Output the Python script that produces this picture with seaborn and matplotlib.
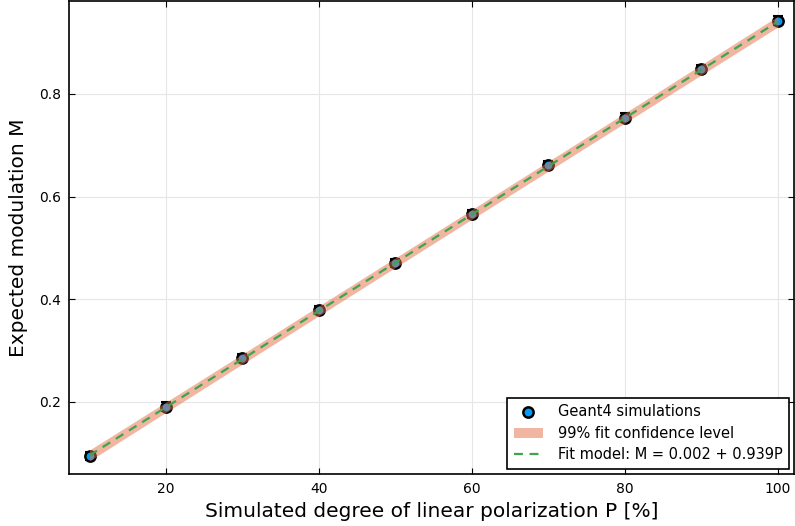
import numpy as np
import pandas as pd
import matplotlib
matplotlib.use("Agg")
import matplotlib.pyplot as plt
import seaborn as sns

# Simulated polarization degrees [%] and measured modulation
P = [10, 20, 30, 40, 50, 60, 70, 80, 90, 100]
M = [0.095, 0.191, 0.285, 0.379, 0.471, 0.566, 0.661, 0.754, 0.849, 0.943]
M_err = [0.008, 0.008, 0.008, 0.008, 0.008, 0.008, 0.008, 0.008, 0.008, 0.008]

# Linear fit parameters and half-width of the 99% confidence band
fit_a = 0.002
fit_b = 0.939
band_hw = [0.0105, 0.0100, 0.0097, 0.0095, 0.0094, 0.0094, 0.0095, 0.0097, 0.0100, 0.0105]

sns.set_theme(style="white")
plt.rcParams["font.family"] = ["DejaVu Sans"]
plt.rcParams["text.color"] = "black"
plt.rcParams["axes.labelcolor"] = "black"

fig = plt.figure(figsize=(7.95, 5.26), dpi=100)
ax = fig.add_axes([69 / 795, 1 - 474 / 526, 725 / 795, 473 / 526])

df = pd.DataFrame({"P": P, "M": M, "err": M_err})
P_arr = np.array(P, dtype=float)
fit_vals = fit_a + fit_b * P_arr / 100
df_fit = pd.DataFrame({"P": P_arr, "M": fit_vals})

# Data points with error bars
ax.errorbar(df["P"], df["M"], yerr=df["err"], fmt="none", ecolor="black",
            elinewidth=1.5, capsize=3.5, capthick=1.5, zorder=2)
sns.scatterplot(data=df, x="P", y="M", ax=ax, s=55, color="#009AFA",
                edgecolor="black", linewidth=1.8, zorder=3,
                label="Geant4 simulations")

# Confidence band
ax.fill_between(P_arr, fit_vals - np.array(band_hw), fit_vals + np.array(band_hw),
                color="#E36F47", alpha=0.5, linewidth=0, zorder=4,
                label="99% fit confidence level")

# Fit line
sns.lineplot(data=df_fit, x="P", y="M", ax=ax, color="#3EA44E", linewidth=1.6,
             zorder=5, label=f"Fit model: M = {fit_a:.3f} + {fit_b:.3f}P")
ax.lines[-1].set_linestyle((0, (4, 3)))

ax.set_xlim(7.32, 102.1)
ax.set_ylim(0.0597, 0.981)
ax.set_xticks([20, 40, 60, 80, 100])
ax.set_yticks([0.2, 0.4, 0.6, 0.8])
ax.set_yticklabels(["0.2", "0.4", "0.6", "0.8"])

ax.grid(True, color="#e6e6e6", linewidth=0.8)
ax.set_axisbelow(True)
for sp in ax.spines.values():
    sp.set_color("black")
    sp.set_linewidth(1.2)
ax.tick_params(direction="in", length=4, width=0.8, color="black",
               top=True, right=True, bottom=True, left=True,
               labelsize=10, labelcolor="black", pad=6)

ax.set_xlabel("Simulated degree of linear polarization P [%]", fontsize=14.5,
              labelpad=4, color="black")
ax.set_ylabel("Expected modulation M", fontsize=14.5, labelpad=8, color="black")

handles, labels = ax.get_legend_handles_labels()
leg = ax.legend(handles, labels, loc="lower right", fontsize=10.5, frameon=True,
                fancybox=False, edgecolor="black", framealpha=1,
                borderaxespad=0.35, handlelength=2.0, handletextpad=1.0,
                labelspacing=0.45, borderpad=0.45)
leg.get_frame().set_linewidth(1.2)
for t in leg.get_texts():
    t.set_color("black")

fig.savefig("out.png", dpi=100)
